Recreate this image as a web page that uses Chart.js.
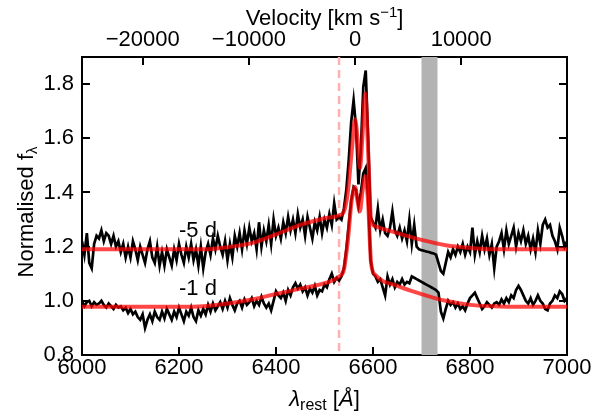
<!DOCTYPE html>
<html>
<head>
<meta charset="utf-8">
<script src="https://cdn.jsdelivr.net/npm/chart.js@4.4.0/dist/chart.umd.min.js"></script>
<style>
  html, body { margin: 0; padding: 0; background: #fff; }
  canvas { display: block; }
</style>
</head>
<body>
<canvas id="spec" width="603" height="416"></canvas>
<script>
// wavelength grid of the observed spectra (Angstrom)
const waveStart = 6000;
const waveStep = 5;

// -5 d spectrum (normalised flux)
const flux5 = [
  1.22, 1.17, 1.25, 1.14, 1.12, 1.21, 1.24, 1.23, 1.26, 1.22,
  1.25, 1.24, 1.21, 1.24, 1.20, 1.22, 1.18, 1.21, 1.16, 1.20,
  1.16, 1.22, 1.19, 1.15, 1.20, 1.17, 1.14, 1.19, 1.22, 1.16,
  1.14, 1.20, 1.13, 1.18, 1.13, 1.19, 1.16, 1.13, 1.19, 1.15,
  1.21, 1.17, 1.14, 1.20, 1.16, 1.21, 1.15, 1.19, 1.13, 1.20,
  1.12, 1.18, 1.21, 1.17, 1.23, 1.19, 1.24, 1.20, 1.17, 1.22,
  1.15, 1.21, 1.16, 1.24, 1.20, 1.25, 1.19, 1.26, 1.21, 1.27,
  1.22, 1.25, 1.19, 1.29, 1.20, 1.26, 1.22, 1.28, 1.21, 1.30,
  1.24, 1.27, 1.23, 1.29, 1.25, 1.31, 1.26, 1.30, 1.25, 1.32,
  1.27, 1.30, 1.24, 1.31, 1.27, 1.23, 1.29, 1.26, 1.31, 1.25,
  1.30, 1.27, 1.32, 1.28, 1.36, 1.30, 1.31, 1.30, 1.34, 1.41,
  1.52, 1.66, 1.74, 1.64, 1.43, 1.56, 1.79, 1.85, 1.60, 1.31,
  1.29, 1.27, 1.34, 1.26, 1.30, 1.25, 1.24, 1.27, 1.33, 1.26,
  1.24, 1.27, 1.23, 1.26, 1.22, 1.30, 1.21, 1.28, 1.20, 1.19,
  1.187, 1.185, 1.182, 1.180, 1.177, 1.175, 1.17, 1.14, 1.11, 1.10,
  1.14, 1.18, 1.16, 1.19, 1.17, 1.20, 1.18, 1.21, 1.17, 1.20,
  1.18, 1.27, 1.17, 1.22, 1.18, 1.24, 1.19, 1.23, 1.17, 1.21,
  1.12, 1.20, 1.22, 1.25, 1.19, 1.26, 1.21, 1.24, 1.27, 1.20,
  1.25, 1.22, 1.26, 1.21, 1.24, 1.19, 1.23, 1.18, 1.26, 1.21,
  1.28, 1.30, 1.27, 1.28, 1.24, 1.22, 1.19, 1.27, 1.24, 1.20,
  1.22
];

// -1 d spectrum (normalised flux)
const flux1 = [
  1.00, 0.98, 0.995, 1.00, 0.98, 0.995, 0.985, 0.99, 1.00, 0.985,
  0.975, 0.99, 0.98, 0.97, 0.985, 0.975, 0.98, 0.965, 0.975, 0.955,
  0.97, 0.95, 0.96, 0.94, 0.93, 0.95, 0.90, 0.93, 0.95, 0.925,
  0.96, 0.94, 0.93, 0.96, 0.935, 0.97, 0.95, 0.93, 0.96, 0.94,
  0.975, 0.95, 0.925, 0.96, 0.945, 0.975, 0.94, 0.925, 0.965, 0.945,
  0.97, 0.95, 0.985, 0.96, 0.99, 0.965, 0.98, 0.995, 0.97, 1.00,
  0.975, 1.01, 0.985, 0.965, 0.99, 1.00, 0.975, 1.005, 0.985, 0.995,
  1.01, 0.98, 1.00, 0.985, 1.015, 0.99, 0.975, 0.99, 0.965, 1.00,
  1.035, 1.02, 1.01, 1.03, 1.00, 1.04, 1.02, 1.05, 1.065, 1.045,
  1.06, 1.035, 1.05, 1.02, 1.045, 1.03, 1.055, 1.02, 1.04, 1.035,
  1.06, 1.05, 1.08, 1.10, 1.07, 1.085, 1.075, 1.09, 1.12, 1.19,
  1.28, 1.37, 1.42, 1.41, 1.35, 1.40, 1.47, 1.49, 1.38, 1.15,
  1.10, 1.09, 1.07, 1.08, 1.05, 1.02, 1.09, 1.06, 1.08, 1.05,
  1.07, 1.06, 1.08, 1.06, 1.07, 1.065, 1.09, 1.085, 1.08, 1.075,
  1.07, 1.065, 1.06, 1.055, 1.05, 1.045, 1.04, 1.03, 0.96, 0.935,
  0.97, 1.00, 0.985, 0.995, 0.975, 0.99, 0.97, 0.98, 0.965, 0.99,
  1.01, 1.02, 1.03, 1.01, 0.99, 0.97, 0.98, 0.995, 0.985, 0.975,
  0.99, 0.995, 0.985, 1.005, 0.99, 1.01, 0.995, 1.02, 1.01, 1.04,
  1.055, 1.04, 1.02, 1.00, 0.99, 1.01, 0.985, 1.00, 1.02, 1.00,
  0.99, 0.97, 0.965, 0.99, 1.00, 1.02, 1.01, 1.035, 1.025, 1.00,
  1.01
];

// model fits
const fitWave = [6000, 6100, 6200, 6250, 6300, 6350, 6400, 6450, 6500, 6530, 6540, 6548, 6556, 6563,
  6568, 6573, 6578, 6584, 6590, 6596, 6605, 6650, 6700, 6750, 6800, 6850, 6900, 7000];
const fit5 = [1.19, 1.19, 1.19, 1.19, 1.198, 1.213, 1.245, 1.28, 1.305, 1.315, 1.33, 1.40, 1.55, 1.67,
  1.60, 1.49, 1.60, 1.765, 1.55, 1.30, 1.275, 1.25, 1.225, 1.205, 1.195, 1.19, 1.19, 1.19];
const fit1 = [0.978, 0.978, 0.978, 0.98, 0.99, 1.005, 1.025, 1.045, 1.065, 1.09, 1.115, 1.22, 1.37, 1.42,
  1.37, 1.33, 1.40, 1.46, 1.36, 1.14, 1.095, 1.055, 1.025, 1.00, 0.985, 0.98, 0.978, 0.978];

const epochLabels = ['-5 d', '-1 d'];
const epochLabelPos = [[6200, 1.235], [6200, 1.02]];

const waveTicks = [6000, 6200, 6400, 6600, 6800, 7000];
const fluxTicks = [0.8, 1.0, 1.2, 1.4, 1.6, 1.8];
const velTicks = [-20000, -10000, 0, 10000];
const restWave = 6563;
const lightSpeed = 299792.458;
const markerWave = 6530;
const bandRange = [6700, 6733];

const FONT = '"Liberation Sans", Arial, sans-serif';
const FS = 22;

function series(flux) {
  return flux.map((f, i) => ({ x: waveStart + i * waveStep, y: f }));
}
function fitSeries(fit) {
  return fit.map((f, i) => ({ x: fitWave[i], y: f }));
}

function drawParts(ctx, parts, cx, base) {
  let w = 0;
  parts.forEach(p => { ctx.font = p.f; w += ctx.measureText(p.t).width; });
  let px = cx - w / 2;
  ctx.textAlign = 'left';
  parts.forEach(p => {
    ctx.font = p.f;
    ctx.fillText(p.t, px, base + p.dy);
    px += ctx.measureText(p.t).width;
  });
}

const extras = {
  id: 'extras',
  beforeDatasetsDraw(chart) {
    const { ctx, chartArea: a, scales: { x } } = chart;
    ctx.save();
    const b0 = x.getPixelForValue(bandRange[0]);
    const b1 = x.getPixelForValue(bandRange[1]);
    ctx.fillStyle = '#b3b3b3';
    ctx.fillRect(b0, a.top, b1 - b0, a.bottom - a.top);
    const dx = x.getPixelForValue(markerWave);
    ctx.fillStyle = '#ffb0b0';
    for (let yy = a.top; yy < a.bottom; yy += 13) {
      ctx.fillRect(dx - 1.25, yy, 2.5, Math.min(8, a.bottom - yy));
    }
    ctx.restore();
  },
  afterDraw(chart) {
    const { ctx, chartArea: a, scales: { x, y } } = chart;
    ctx.save();
    ctx.fillStyle = '#000';
    ctx.textBaseline = 'alphabetic';

    // epoch labels
    ctx.font = FS + 'px ' + FONT;
    ctx.textAlign = 'left';
    epochLabels.forEach((s, i) => {
      ctx.fillText(s, x.getPixelForValue(epochLabelPos[i][0]), y.getPixelForValue(epochLabelPos[i][1]));
    });

    const cx = (a.left + a.right) / 2;
    // bottom title: lambda_rest [Å]
    drawParts(ctx, [
      { t: 'λ', f: 'italic ' + FS + 'px ' + FONT, dy: 0 },
      { t: 'rest', f: '16px ' + FONT, dy: 4 },
      { t: ' [', f: FS + 'px ' + FONT, dy: 0 },
      { t: 'Å', f: 'italic ' + FS + 'px ' + FONT, dy: 0 },
      { t: ']', f: FS + 'px ' + FONT, dy: 0 }
    ], cx, 406);

    // top title: Velocity [km s^-1]
    drawParts(ctx, [
      { t: 'Velocity [km s', f: FS + 'px ' + FONT, dy: 0 },
      { t: '−1', f: '15px ' + FONT, dy: -8 },
      { t: ']', f: FS + 'px ' + FONT, dy: 0 }
    ], cx, 25);

    // y title: Normalised f_lambda
    ctx.translate(33, 212);
    ctx.rotate(-Math.PI / 2);
    drawParts(ctx, [
      { t: 'Normalised f', f: FS + 'px ' + FONT, dy: 0 },
      { t: 'λ', f: '15px ' + FONT, dy: 4 }
    ], 0, 0);
    ctx.restore();
  }
};

const tickFont = { family: FONT, size: FS };
// inward tick marks, no grid lines inside the plot
const inwardGrid = { display: true, drawOnChartArea: false, drawTicks: true, tickLength: -8,
  tickWidth: 2, tickColor: '#000', color: '#000', lineWidth: 2 };
const frameBorder = { display: true, color: '#000', width: 2 };

new Chart(document.getElementById('spec'), {
  type: 'line',
  data: {
    datasets: [
      { label: 'fit -5 d', data: fitSeries(fit5), borderColor: 'rgba(255,0,0,0.72)', borderWidth: 4,
        cubicInterpolationMode: 'monotone', pointRadius: 0, order: 0 },
      { label: 'fit -1 d', data: fitSeries(fit1), borderColor: 'rgba(255,0,0,0.72)', borderWidth: 4,
        cubicInterpolationMode: 'monotone', pointRadius: 0, order: 0 },
      { label: '-5 d', data: series(flux5), borderColor: '#000', borderWidth: 2.7, tension: 0,
        pointRadius: 0, order: 1 },
      { label: '-1 d', data: series(flux1), borderColor: '#000', borderWidth: 2.7, tension: 0,
        pointRadius: 0, order: 1 }
    ]
  },
  options: {
    responsive: false,
    animation: false,
    devicePixelRatio: 1,
    layout: { padding: 0 },
    plugins: { legend: { display: false }, tooltip: { enabled: false } },
    scales: {
      x: {
        type: 'linear', position: 'bottom', min: 6000, max: 7000,
        afterBuildTicks: s => { s.ticks = waveTicks.map(v => ({ value: v })); },
        afterFit: s => { s.height = 61; },
        ticks: { font: tickFont, color: '#000', padding: 8, maxRotation: 0, autoSkip: false,
          callback: v => String(v) },
        grid: inwardGrid, border: frameBorder
      },
      x2: {
        type: 'linear', position: 'top', min: 6000, max: 7000,
        afterBuildTicks: s => { s.ticks = velTicks.map(v => ({ value: restWave * (1 + v / lightSpeed) })); },
        afterFit: s => { s.height = 57; },
        ticks: { font: tickFont, color: '#000', padding: 12, maxRotation: 0, autoSkip: false,
          callback: (v, i) => String(velTicks[i]).replace('-', '−') },
        grid: inwardGrid, border: frameBorder
      },
      y: {
        type: 'linear', position: 'left', min: 0.8, max: 1.9,
        afterBuildTicks: s => { s.ticks = fluxTicks.map(v => ({ value: v })); },
        afterFit: s => { s.width = 82; },
        ticks: { font: tickFont, color: '#000', padding: 16, autoSkip: false, callback: v => v.toFixed(1) },
        grid: inwardGrid, border: frameBorder
      },
      y2: {
        type: 'linear', position: 'right', min: 0.8, max: 1.9,
        afterBuildTicks: s => { s.ticks = fluxTicks.map(v => ({ value: v })); },
        afterFit: s => { s.width = 36; },
        ticks: { font: tickFont, color: '#000', autoSkip: false, callback: () => '' },
        grid: inwardGrid, border: frameBorder
      }
    }
  },
  plugins: [extras]
});
</script>
</body>
</html>
